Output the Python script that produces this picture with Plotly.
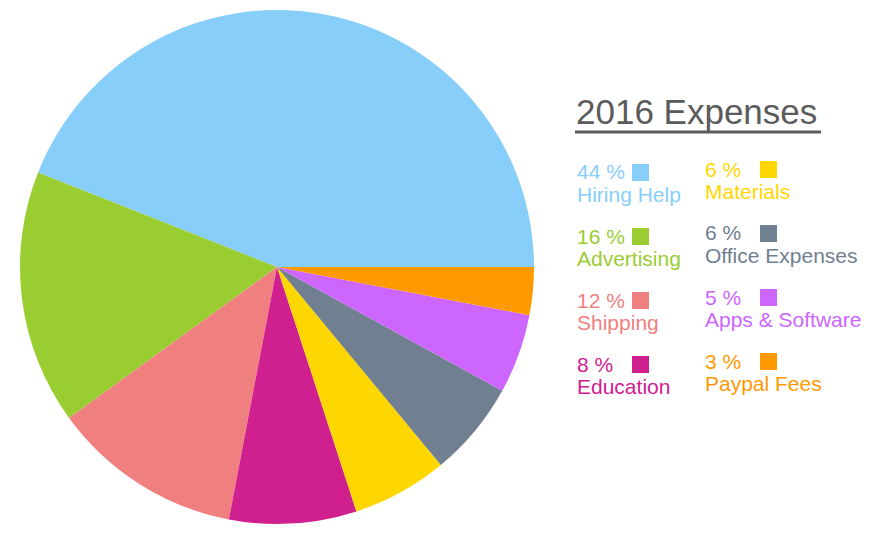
import plotly.graph_objects as go

# Expense categories and their share of the 2016 total (percent)
categories = ["Hiring Help", "Advertising", "Shipping", "Education",
              "Materials", "Office Expenses", "Apps & Software", "Paypal Fees"]
shares = [44, 16, 12, 8, 6, 6, 5, 3]
colors = ["#87CEFA", "#9ACD32", "#F08080", "#D02090",
          "#FFD700", "#708090", "#CC66FF", "#FF9900"]
title_text = "2016 Expenses"

W, H = 874, 536
FONT = "Arial, 'Liberation Sans', Helvetica, sans-serif"


def px(x):
    return x / W


def py(y):
    return 1 - y / H


# Pie placement (pixels): centre and radius
cx, cy, r = 277, 267, 257

# In counterclockwise mode plotly offsets the start by the first slice,
# so shift back to make the first slice begin at 3 o'clock.
first_angle = 360 * shares[0] / sum(shares)

fig = go.Figure(go.Pie(
    labels=categories,
    values=shares,
    marker=dict(colors=colors, line=dict(width=0)),
    sort=False,
    direction="counterclockwise",
    rotation=90 - first_angle,
    textinfo="none",
    hoverinfo="label+percent",
    showlegend=False,
    domain=dict(x=[px(cx - r), px(cx + r)], y=[py(cy + r), py(cy - r)]),
))

annotations = []
shapes = []

# Title with underline
annotations.append(dict(
    x=px(574), y=py(111), xref="paper", yref="paper",
    xanchor="left", yanchor="middle", showarrow=False,
    text=title_text, font=dict(family=FONT, size=35, color="#5b5b5b"),
))
shapes.append(dict(
    type="line", xref="paper", yref="paper",
    x0=px(575), x1=px(821), y0=py(132), y1=py(132),
    line=dict(color="#5b5b5b", width=3),
))

# Two-column key: percentage + swatch, category name underneath
col_x = [576, 704]
col_top = [164, 161]
row_step = 64
sw = 17
for i, (name, val, col) in enumerate(zip(categories, shares, colors)):
    c, rw = divmod(i, 4)
    x0 = col_x[c]
    top = col_top[c] + rw * row_step
    annotations.append(dict(
        x=px(x0 - 1), y=py(top + 8), xref="paper", yref="paper",
        xanchor="left", yanchor="middle", showarrow=False,
        text=f"{val} %", font=dict(family=FONT, size=21, color=col),
    ))
    annotations.append(dict(
        x=px(x0 - 1), y=py(top + 30), xref="paper", yref="paper",
        xanchor="left", yanchor="middle", showarrow=False,
        text=name, font=dict(family=FONT, size=21, color=col),
    ))
    shapes.append(dict(
        type="rect", xref="paper", yref="paper",
        x0=px(x0 + 56), x1=px(x0 + 56 + sw),
        y0=py(top + sw), y1=py(top),
        fillcolor=col, line=dict(width=0),
    ))

fig.update_layout(
    width=W, height=H,
    margin=dict(l=0, r=0, t=0, b=0),
    paper_bgcolor="white",
    plot_bgcolor="white",
    annotations=annotations,
    shapes=shapes,
)

fig.write_html("out.html")
